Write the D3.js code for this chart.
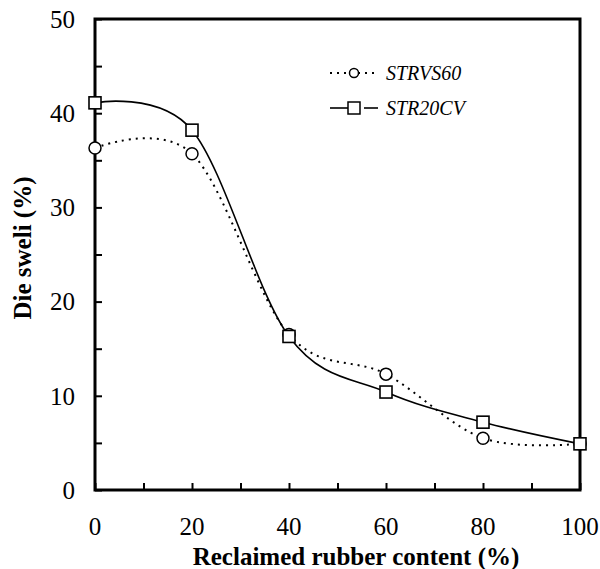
<!DOCTYPE html>
<html><head><meta charset="utf-8">
<script src="https://cdn.jsdelivr.net/npm/d3@7"></script>
<style>body{margin:0;background:#fff}svg{display:block}</style>
</head><body>
<script>
const xValues = [0, 20, 40, 60, 80, 100];
const strvs60 = [36.3, 35.7, 16.5, 12.3, 5.5, 4.9];
const str20cv = [41.1, 38.2, 16.3, 10.4, 7.2, 4.9];
const xTickLabels = [0, 20, 40, 60, 80, 100];
const yTickLabels = [0, 10, 20, 30, 40, 50];
const seriesNames = ["STRVS60", "STR20CV"];

const FONT = "Liberation Serif, Times New Roman, serif";
const W = 600, H = 569;
const svg = d3.select("body").append("svg").attr("width", W).attr("height", H)
  .attr("font-family", FONT);
const x = d3.scaleLinear().domain([0, 100]).range([95, 580]);
const y = d3.scaleLinear().domain([0, 50]).range([490, 19]);

// frame
svg.append("rect").attr("x", x(0)).attr("y", y(50)).attr("width", x(100) - x(0)).attr("height", y(0) - y(50))
  .attr("fill", "none").attr("stroke", "#000").attr("stroke-width", 3);

// inward ticks
const yAxis = d3.axisRight(y).tickValues(d3.range(0, 51, 5)).tickSize(7).tickFormat("");
svg.append("g").attr("transform", `translate(${x(0)},0)`).call(yAxis)
  .call(g => g.select(".domain").remove()).selectAll("line").attr("stroke-width", 2);
const xAxis = d3.axisTop(x).tickValues(d3.range(0, 101, 10)).tickSize(7).tickFormat("");
svg.append("g").attr("transform", `translate(0,${y(0)})`).call(xAxis)
  .call(g => g.select(".domain").remove()).selectAll("line").attr("stroke-width", 2);

// tick labels
svg.append("g").attr("font-family", FONT).selectAll("text").data(yTickLabels).join("text")
  .attr("x", x(0) - 20).attr("y", d => y(d)).attr("dy", "0.35em").attr("text-anchor", "end")
  .attr("font-size", 25).text(d => d);
svg.append("g").attr("font-family", FONT).selectAll("text").data(xTickLabels).join("text")
  .attr("x", d => x(d)).attr("y", 526).attr("dy", "0.35em").attr("text-anchor", "middle")
  .attr("font-size", 25).text(d => d);

// axis titles
svg.append("text").attr("x", 356).attr("y", 565)
  .attr("text-anchor", "middle").attr("font-family", FONT).attr("font-size", 25).attr("font-weight", "bold")
  .text("Reclaimed rubber content (%)");
svg.append("text").attr("transform", `translate(22,248) rotate(-90)`).attr("dy", "0.35em")
  .attr("text-anchor", "middle").attr("font-family", FONT).attr("font-size", 25).attr("font-weight", "bold")
  .text("Die sweli (%)");

const line = d3.line().x((d, i) => x(xValues[i])).y(d => y(d)).curve(d3.curveCardinal.tension(0));

svg.append("path").datum(strvs60).attr("d", line).attr("fill", "none").attr("stroke", "#000")
  .attr("stroke-width", 2).attr("stroke-dasharray", "2,5");
svg.append("path").datum(str20cv).attr("d", line).attr("fill", "none").attr("stroke", "#000")
  .attr("stroke-width", 1.6);

svg.append("g").selectAll("circle").data(strvs60).join("circle")
  .attr("cx", (d, i) => x(xValues[i])).attr("cy", d => y(d)).attr("r", 6)
  .attr("fill", "#fff").attr("stroke", "#000").attr("stroke-width", 1.5);
svg.append("g").selectAll("rect").data(str20cv).join("rect")
  .attr("x", (d, i) => x(xValues[i]) - 6).attr("y", d => y(d) - 6).attr("width", 12).attr("height", 12)
  .attr("fill", "#fff").attr("stroke", "#000").attr("stroke-width", 1.6);

// legend
const lg = svg.append("g");
lg.append("line").attr("x1", 330).attr("x2", 378).attr("y1", 73).attr("y2", 73)
  .attr("stroke", "#000").attr("stroke-width", 2).attr("stroke-dasharray", "2,5");
lg.append("circle").attr("cx", 354).attr("cy", 73).attr("r", 4.5).attr("fill", "#fff").attr("stroke", "#000").attr("stroke-width", 1.5);
lg.append("line").attr("x1", 330).attr("x2", 348).attr("y1", 108).attr("y2", 108).attr("stroke", "#000").attr("stroke-width", 1.6);
lg.append("line").attr("x1", 364).attr("x2", 378).attr("y1", 108).attr("y2", 108).attr("stroke", "#000").attr("stroke-width", 1.6);
lg.append("rect").attr("x", 348).attr("y", 102).attr("width", 12).attr("height", 12).attr("fill", "#fff").attr("stroke", "#000").attr("stroke-width", 1.5);
lg.selectAll("text").data(seriesNames).join("text")
  .attr("x", 386).attr("y", (d, i) => 73 + i * 35).attr("dy", "0.35em")
  .attr("font-family", FONT).attr("font-size", 20).attr("font-style", "italic").text(d => d);
</script>
</body></html>
